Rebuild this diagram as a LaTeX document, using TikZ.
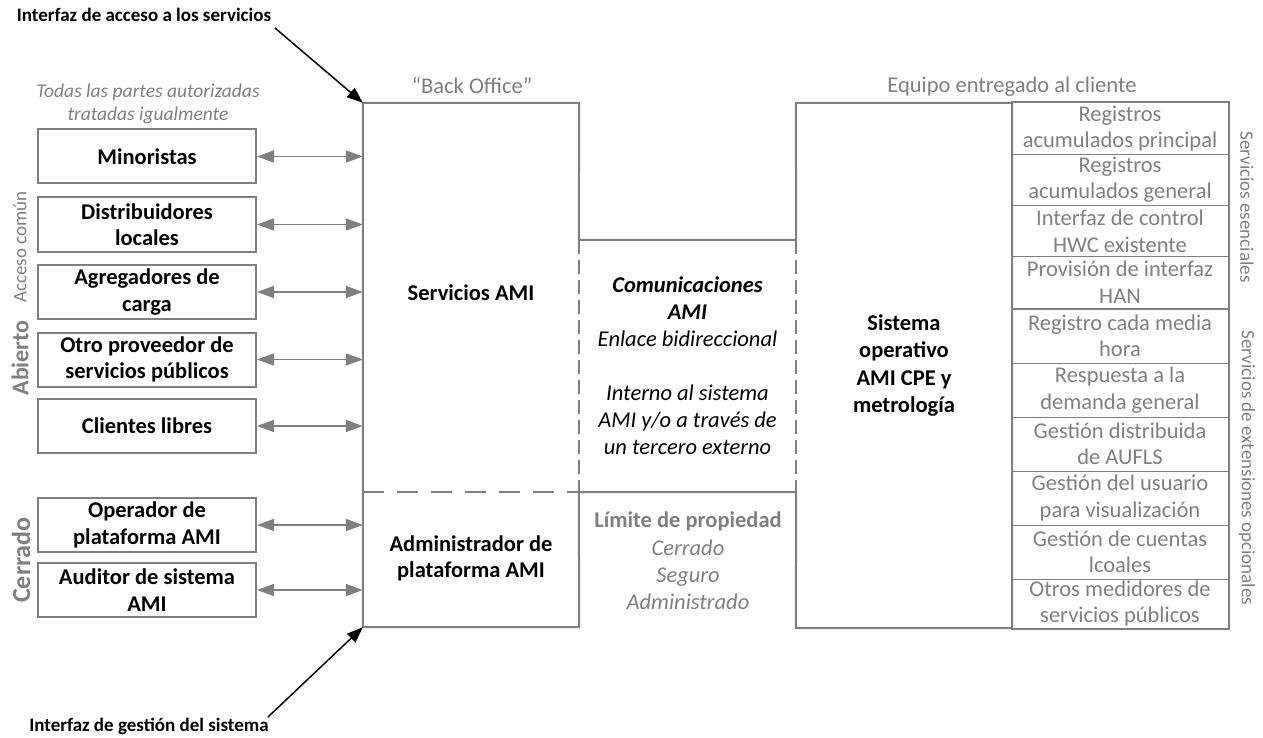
\documentclass[tikz,border=0pt]{standalone}
\usepackage{fontspec}
\setmainfont{Carlito}
\usetikzlibrary{arrows.meta}
\definecolor{fr}{HTML}{7F7F7F}
\definecolor{tx}{HTML}{808080}
\tikzset{
  base/.style={font=\fontsize{22.5}{26.5}\selectfont, align=center, inner sep=0pt},
  party/.style={base, draw=fr, line width=2pt, minimum width=218pt, minimum height=54pt, font=\fontsize{22.5}{26.5}\selectfont\bfseries},
  svc/.style={base, draw=fr, line width=1pt, minimum width=216pt, text=tx},
  frame/.style={draw=fr, line width=2pt},
  dvframe/.style={frame, dash pattern=on 14pt off 6pt},
  dhframe/.style={frame, dash pattern=on 21pt off 13pt},
  dbl/.style={draw=fr, fill=fr, line width=1.7pt, {Triangle[length=17pt,width=12pt]}-{Triangle[length=17pt,width=12pt]}},
  blk/.style={draw=black, line width=1.5pt, -{Triangle[length=16pt,width=12pt]}},
  title/.style={base, font=\fontsize{19}{22}\selectfont\bfseries},
  side/.style={base, text=tx, font=\fontsize{19}{22}\selectfont},
  sideb/.style={base, text=tx, font=\fontsize{24}{28}\selectfont\bfseries}
}
\begin{document}
\begin{tikzpicture}[x=1pt,y=-1pt]
\useasboundingbox (0,0) rectangle (1263,738);

% titles
\node[title] (tacc) at (144,15) {Interfaz de acceso a los servicios};
\node[title] (tges) at (149,726) {Interfaz de gestión del sistema};
\coordinate (acc) at (275,28);
\coordinate (ges) at (268,717);

\node[base, text=tx, font=\fontsize{19.5}{23}\selectfont\itshape] (todas) at (148,103.5) {Todas las partes autorizadas\\tratadas igualmente};

% left boxes
\node[party] (min) at (147,156.5) {Minoristas};
\node[party] (dis) at (147,224.5) {Distribuidores\\locales};
\node[party] (agr) at (147,292) {Agregadores de\\carga};
\node[party] (otr) at (147,359.5) {Otro proveedor de\\servicios públicos};
\node[party] (cli) at (147,426) {Clientes libres};
\node[party] (ope) at (147,525) {Operador de\\plataforma AMI};
\node[party] (aud) at (147,590) {Auditor de sistema\\AMI};

% side labels
\node[side, rotate=90] (acom) at (20,247) {Acceso común};
\node[sideb, rotate=90] (abi) at (20,358) {Abierto};
\node[sideb, rotate=90, font=\fontsize{26}{30}\selectfont\bfseries] (cer) at (21,560) {Cerrado};

% back office
\node[base, minimum width=216pt, minimum height=524pt] (bo) at (471,365) {};
\node[base, text=tx] (bol) at (472,85) {“Back Office”};
\node[base, font=\fontsize{22.5}{26.5}\selectfont\bfseries] (sami) at (471,293) {Servicios AMI};
\node[base, font=\fontsize{22.5}{26.5}\selectfont\bfseries] (adm) at (471,558.5) {Administrador de\\plataforma AMI};

% communications
\node[base, minimum width=217pt, minimum height=252pt, font=\fontsize{22.5}{27}\selectfont\itshape] (comm) at (687.5,366)
  {\textbf{Comunicaciones}\\\textbf{AMI}\\Enlace bidireccional\\[27pt]Interno al sistema\\AMI y/o a través de\\un tercero externo};
\node[base, text=tx, font=\fontsize{22.5}{27.3}\selectfont] (lim) at (688,561)
  {\textbf{Límite de propiedad}\\\textit{Cerrado}\\\textit{Seguro}\\\textit{Administrado}};

% CPE
\node[base, minimum width=216pt, minimum height=525pt, font=\fontsize{22.5}{27.5}\selectfont\bfseries] (cpe) at (904,365.5)
  {Sistema\\operativo\\AMI CPE y\\metrología};
\node[base, text=tx] (eq) at (1012,87) {Equipo entregado al cliente};

% frames
\draw[frame] (comm.north west) -- (bo.north east) -- (bo.north west) -- (bo.south west) -- (bo.south east) -- (comm.south west);
\draw[frame] (comm.north west) -- (comm.north east) -- (cpe.north west) -- (cpe.north east) -- (cpe.south east) -- (cpe.south west) -- (comm.south east) -- (comm.south west);
\draw[dvframe] (comm.north west) -- (comm.south west);
\draw[dvframe] (comm.north east) -- (comm.south east);
\draw[dhframe] (bo.west |- comm.south) -- (comm.south west);

% essential services
\node[svc, minimum height=51.25pt] (s1) at (1120,128.6) {Registros\\acumulados principal};
\node[svc, minimum height=51.25pt] (s2) at (1120,179.9) {Registros\\acumulados general};
\node[svc, minimum height=51.25pt] (s3) at (1120,231.1) {Interfaz de control\\HWC existente};
\node[svc, minimum height=51.25pt] (s4) at (1120,282.4) {Provisión de interfaz\\HAN};
\draw[frame] (s1.north west) rectangle (s4.south east);

% optional services
\node[svc, minimum height=54pt] (o1) at (1120,336) {Registro cada media\\hora};
\node[svc, minimum height=54pt] (o2) at (1120,390) {Respuesta a la\\demanda general};
\node[svc, minimum height=54pt] (o3) at (1120,444) {Gestión distribuida\\de AUFLS};
\node[svc, minimum height=54pt] (o4) at (1120,498) {Gestión del usuario\\para visualización};
\node[svc, minimum height=54pt] (o5) at (1120,552) {Gestión de cuentas\\lcoales};
\node[svc, minimum height=49pt] (o6) at (1120,603.5) {Otros medidores de\\servicios públicos};
\draw[frame] (o1.north west) rectangle (o6.south east);

\node[side, rotate=-90] (sese) at (1247,207) {Servicios esenciales};
\node[side, rotate=-90] (sext) at (1247,468) {Servicios de extensiones opcionales};

% arrows
\foreach \n in {min,dis,agr,otr,cli,ope,aud}
  \draw[dbl] (\n.east) -- (\n.east -| bo.west);
\draw[blk] (acc) -- (bo.north west);
\draw[blk] (ges) -- (bo.south west);
\end{tikzpicture}
\end{document}
